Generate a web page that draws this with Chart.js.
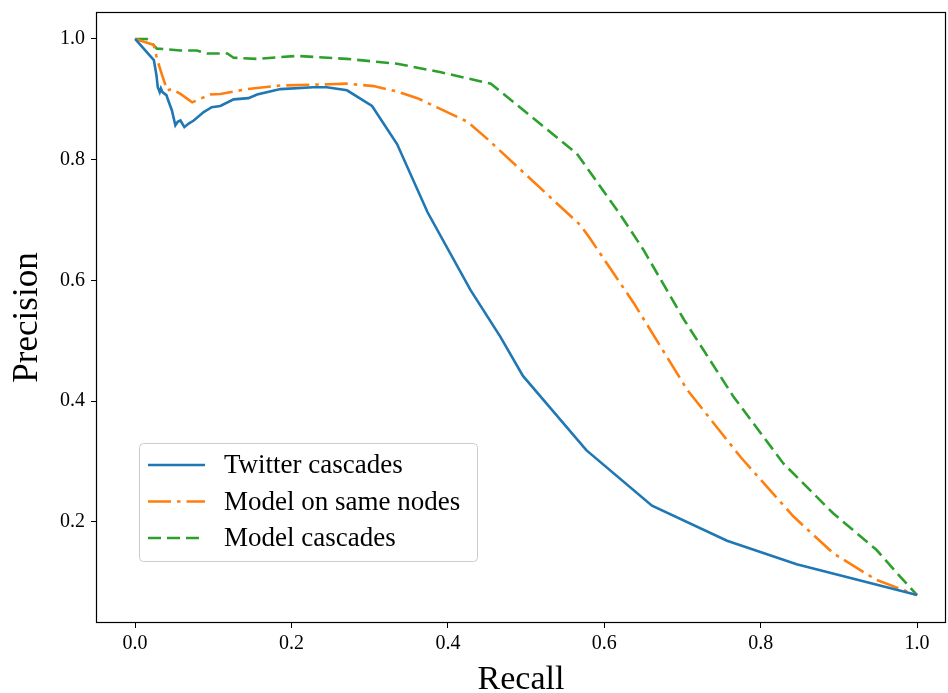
<!DOCTYPE html>
<html>
<head>
<meta charset="utf-8">
<script src="https://cdn.jsdelivr.net/npm/chart.js@4"></script>
<style>
  body { margin: 0; background: #fff; }
  canvas { display: block; }
</style>
</head>
<body>
<canvas id="pr-chart" width="948" height="693"></canvas>
<script>
// values
var twitterRecall = [0, 0.024, 0.0273, 0.029, 0.0315, 0.033, 0.035, 0.040, 0.043, 0.047, 0.0515, 0.0545, 0.058, 0.063, 0.0685, 0.075, 0.0877, 0.098, 0.109, 0.126, 0.145, 0.156, 0.186, 0.228, 0.245, 0.271, 0.303, 0.335, 0.374, 0.429, 0.467, 0.496, 0.577, 0.661, 0.757, 0.846, 1.0];
var twitterPrecision = [1.0, 0.965, 0.940, 0.920, 0.912, 0.918, 0.912, 0.907, 0.896, 0.882, 0.857, 0.863, 0.865, 0.854, 0.860, 0.865, 0.879, 0.887, 0.889, 0.900, 0.902, 0.908, 0.917, 0.920, 0.920, 0.915, 0.889, 0.826, 0.713, 0.584, 0.507, 0.442, 0.319, 0.227, 0.169, 0.130, 0.079];

var sameRecall = [0, 0.0175, 0.024, 0.028, 0.0345, 0.041, 0.047, 0.058, 0.073, 0.096, 0.109, 0.143, 0.186, 0.249, 0.271, 0.305, 0.335, 0.361, 0.425, 0.45, 0.57, 0.582, 0.638, 0.706, 0.774, 0.842, 0.893, 0.948, 1.0];
var samePrecision = [1.0, 0.993, 0.990, 0.967, 0.940, 0.915, 0.917, 0.909, 0.895, 0.908, 0.909, 0.917, 0.923, 0.925, 0.926, 0.922, 0.913, 0.902, 0.863, 0.835, 0.691, 0.669, 0.562, 0.419, 0.308, 0.209, 0.148, 0.104, 0.079];

var modelRecall = [0, 0.015, 0.022, 0.028, 0.041, 0.058, 0.079, 0.092, 0.118, 0.126, 0.156, 0.207, 0.271, 0.335, 0.391, 0.455, 0.565, 0.621, 0.65, 0.702, 0.765, 0.829, 0.893, 0.948, 0.978, 1.0];
var modelPrecision = [1.0, 1.0, 0.992, 0.984, 0.983, 0.981, 0.981, 0.976, 0.976, 0.969, 0.967, 0.972, 0.967, 0.959, 0.945, 0.926, 0.810, 0.708, 0.651, 0.535, 0.408, 0.297, 0.214, 0.154, 0.110, 0.079];

var xTicks = [0.0, 0.2, 0.4, 0.6, 0.8, 1.0];
var yTicks = [0.2, 0.4, 0.6, 0.8, 1.0];

function pts(xs, ys) {
  return xs.map(function (x, i) { return { x: x, y: ys[i] }; });
}

var serif = "'Liberation Serif', 'DejaVu Serif', serif";

// box round the plot area
var framePlugin = {
  id: 'frame',
  afterDraw: function (chart) {
    var a = chart.chartArea, c = chart.ctx;
    c.save();
    c.strokeStyle = '#000';
    c.lineWidth = 1.2;
    c.strokeRect(a.left + 0.5, a.top + 0.5, a.right - a.left - 1, a.bottom - a.top - 1);
    c.restore();
  }
};

// legend drawn inside the plot, lower left
var legendPlugin = {
  id: 'insideLegend',
  afterDraw: function (chart) {
    var c = chart.ctx;
    var x0 = 139, y0 = 443, w = 338, h = 118;
    c.save();
    c.fillStyle = 'rgba(255,255,255,0.8)';
    c.strokeStyle = '#cccccc';
    c.lineWidth = 1;
    c.beginPath();
    c.roundRect(x0 + 0.5, y0 + 0.5, w, h, 4);
    c.fill();
    c.stroke();
    c.font = '27px ' + serif;
    c.textBaseline = 'middle';
    chart.data.datasets.forEach(function (ds, i) {
      var y = 465 + i * 36.5;
      c.strokeStyle = ds.borderColor;
      c.lineWidth = ds.borderWidth;
      c.setLineDash(ds.borderDash || []);
      c.lineCap = 'butt';
      c.beginPath();
      c.moveTo(148, y);
      c.lineTo(205, y);
      c.stroke();
      c.setLineDash([]);
      c.fillStyle = '#000';
      c.fillText(ds.label, 224, y + 1);
    });
    c.restore();
  }
};

var ctx = document.getElementById('pr-chart').getContext('2d');

var chart = new Chart(ctx, {
  type: 'line',
  data: {
    datasets: [{
      label: 'Twitter cascades',
      data: pts(twitterRecall, twitterPrecision),
      borderColor: '#1f77b4',
      borderWidth: 2.6
    }, {
      label: 'Model on same nodes',
      data: pts(sameRecall, samePrecision),
      borderColor: '#ff7f0e',
      borderWidth: 2.6,
      borderDash: [23, 6, 3.5, 6]
    }, {
      label: 'Model cascades',
      data: pts(modelRecall, modelPrecision),
      borderColor: '#2ca02c',
      borderWidth: 2.6,
      borderDash: [13, 6]
    }]
  },
  options: {
    responsive: false,
    animation: false,
    layout: { padding: { left: 0, right: 2, top: 12, bottom: 0 } },
    elements: {
      point: { radius: 0 },
      line: { tension: 0, borderCapStyle: 'butt', fill: false }
    },
    plugins: {
      legend: { display: false },
      tooltip: { enabled: false }
    },
    scales: {
      x: {
        type: 'linear',
        min: -0.05,
        max: 1.037,
        afterBuildTicks: function (s) { s.ticks = xTicks.map(function (v) { return { value: v }; }); },
        afterFit: function (s) { s.height = 70; s.paddingLeft = 0; s.paddingRight = 0; },
        border: { display: false },
        grid: { drawOnChartArea: false, drawTicks: true, tickLength: 5, tickColor: '#000', tickWidth: 1 },
        ticks: {
          color: '#000',
          padding: 4,
          maxRotation: 0,
          font: { family: serif, size: 20 },
          callback: function (v) { return v.toFixed(1); }
        },
        title: {
          display: true,
          text: 'Recall',
          color: '#000',
          font: { family: serif, size: 34, lineHeight: 1 },
          padding: { top: 0, bottom: -4 }
        }
      },
      y: {
        type: 'linear',
        min: 0.0327,
        max: 1.0447,
        afterBuildTicks: function (s) { s.ticks = yTicks.map(function (v) { return { value: v }; }); },
        afterFit: function (s) { s.width = 96; s.paddingTop = 0; s.paddingBottom = 0; },
        border: { display: false },
        grid: { drawOnChartArea: false, drawTicks: true, tickLength: 5, tickColor: '#000', tickWidth: 1 },
        ticks: {
          color: '#000',
          padding: 6,
          font: { family: serif, size: 20 },
          callback: function (v) { return v.toFixed(1); }
        },
        title: {
          display: true,
          text: 'Precision',
          color: '#000',
          font: { family: serif, size: 35, lineHeight: 1 },
          padding: { top: 10, bottom: 0 }
        }
      }
    }
  },
  plugins: [framePlugin, legendPlugin]
});
</script>
</body>
</html>
